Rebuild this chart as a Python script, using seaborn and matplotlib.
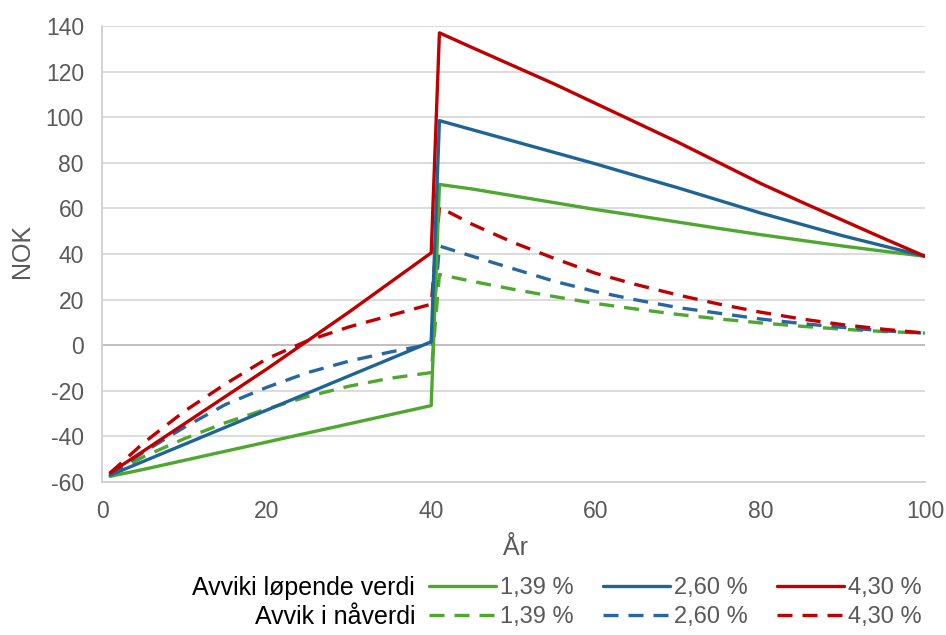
import matplotlib
matplotlib.use("Agg")
import matplotlib.pyplot as plt
from matplotlib.lines import Line2D
import seaborn as sns
import pandas as pd

# ---------------- data ----------------
years = [1, 5, 10, 15, 20, 25, 30, 35, 40,
         41, 45, 50, 55, 60, 65, 70, 75, 80, 85, 90, 95, 100]

rates = ["1,39 %", "2,60 %", "4,30 %"]

# Avviki løpende verdi (solid)
lop_139 = [-57.5, -54.5, -50.5, -46.5, -42.5, -38.5, -34.5, -30.5, -26.5,
           70.5, 68.5, 65.5, 62.5, 59.5, 56.8, 54, 51.2, 48.5, 46, 43.5, 41.2, 39]
lop_260 = [-57, -51, -43.5, -36, -28.5, -21, -13.5, -6, 1.5,
           98.5, 94.5, 89.5, 84.5, 79.5, 74.2, 69, 63.5, 58, 53, 48, 43.5, 39]
lop_430 = [-56, -46.5, -34.5, -22.5, -10.5, 2, 14.5, 27.5, 40.5,
           137, 130.5, 122.5, 114.5, 106, 97.5, 89, 80, 71, 62.8, 54.8, 46.8, 39]

# Avvik i nåverdi (dashed)
nav_139 = [-57, -49, -41, -34, -28, -22.5, -18, -14.5, -12,
           31, 28, 24.5, 21.3, 18.3, 15.8, 13.5, 11.5, 9.8, 8.3, 7, 6, 5.3]
nav_260 = [-57, -47, -36, -26, -18.5, -12, -7, -3, 0.5,
           43.5, 39, 33.5, 28, 23.5, 19.8, 16.5, 14, 11.5, 9.5, 7.8, 6.3, 5.3]
nav_430 = [-56, -43, -29, -17, -6, 2, 8, 13, 18,
           60.5, 53, 45, 38, 31.5, 26.5, 22, 18, 14.5, 11.5, 9, 7, 5.3]

row_labels = ["Avviki løpende verdi", "Avvik i nåverdi"]
x_label = "År"
y_label = "NOK"

# ---------------- style ----------------
sns.set_style("white")
plt.rcParams["font.family"] = ["Liberation Sans", "DejaVu Sans"]
plt.rcParams["axes.unicode_minus"] = False

solid_colors = ["#4EA72E", "#1E6494", "#C00000"]
dash_colors = ["#4EA72E", "#2766A0", "#C00000"]
txt_gray = "#595959"

fig = plt.figure(figsize=(9.46, 6.35), dpi=100)
ax = fig.add_axes([102 / 946, 1 - 482 / 635, 823 / 946, 456 / 635])

lw = 2.4
dash_pat = (4.5, 3)

lop = [lop_139, lop_260, lop_430]
nav = [nav_139, nav_260, nav_430]

ax.set_ylim(-60, 140)
ax.set_xlim(0, 100)
ax.set_yticks(range(-60, 141, 20))
ax.set_xticks(range(0, 101, 20))
ax.yaxis.grid(True, color="#D9D9D9", lw=1.3)
ax.xaxis.grid(False)
ax.set_axisbelow(True)
ax.axhline(0, color="#BFBFBF", lw=1.4, zorder=1)

handles = []
for i in range(3):
    df_l = pd.DataFrame({"x": years, "y": lop[i]})
    df_n = pd.DataFrame({"x": years, "y": nav[i]})
    sns.lineplot(data=df_n, x="x", y="y", ax=ax, color=dash_colors[i], lw=lw,
                 legend=False, zorder=3, linestyle=(0, dash_pat))
    sns.lineplot(data=df_l, x="x", y="y", ax=ax, color=solid_colors[i], lw=lw,
                 legend=False, zorder=4)
    handles.append(Line2D([], [], color=solid_colors[i], lw=lw))
    handles.append(Line2D([], [], color=dash_colors[i], lw=lw, linestyle=(0, dash_pat)))

labels = [rates[0], rates[0], rates[1], rates[1], rates[2], rates[2]]

for s in ["top", "right"]:
    ax.spines[s].set_visible(False)
for s in ["left", "bottom"]:
    ax.spines[s].set_color("#D0D0D0")
    ax.spines[s].set_linewidth(1.3)

ax.tick_params(axis="both", length=0, labelsize=16.5, labelcolor=txt_gray, pad=13)

ax.set_xlabel(x_label, fontsize=18, color=txt_gray)
ax.set_ylabel(y_label, fontsize=18, color=txt_gray)
ax.xaxis.set_label_coords((515 - 102) / 823, (482 - 548) / 456)
ax.xaxis.label.set_va("center")
ax.yaxis.set_label_coords((21.7 - 102) / 823, (482 - 251) / 456)
ax.yaxis.label.set_va("center")

leg = fig.legend(handles, labels, ncol=3, loc="center left",
                 bbox_to_anchor=(429 / 946, 1 - 602.5 / 635),
                 frameon=False, fontsize=17, handlelength=2.85,
                 handletextpad=0.15, columnspacing=1.25, labelspacing=0.3,
                 borderpad=0, borderaxespad=0)
for t in leg.get_texts():
    t.set_color(txt_gray)

fig.text(415 / 946, 1 - 588 / 635, row_labels[0], ha="right", va="center",
         fontsize=18, color="black")
fig.text(415 / 946, 1 - 617 / 635, row_labels[1], ha="right", va="center",
         fontsize=18, color="black")

fig.savefig("out.png", dpi=100)
